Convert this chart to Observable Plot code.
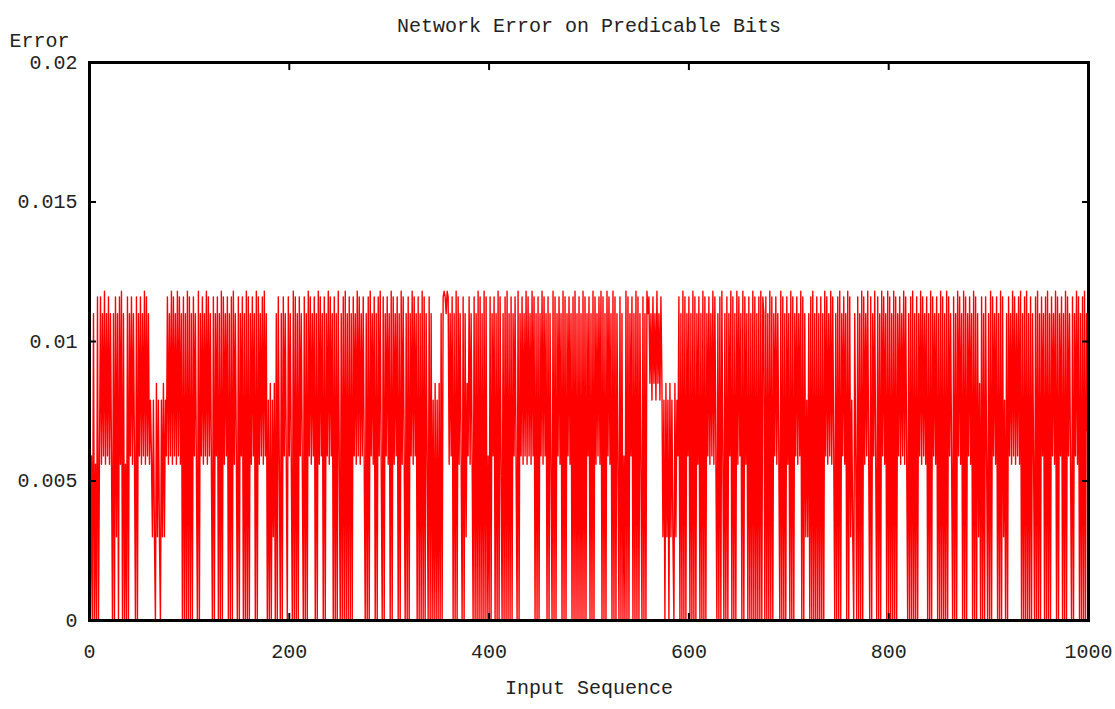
<!DOCTYPE html>
<html>
<head>
<meta charset="utf-8">
<script src="https://cdn.jsdelivr.net/npm/d3@7"></script>
<script src="https://cdn.jsdelivr.net/npm/@observablehq/plot@0.6"></script>
<style>
  body { margin: 0; background: #fff; }
  svg { display: block; }
</style>
</head>
<body>
<div id="chart"></div>
<script>
// Discrete error levels the network output settles on
const errorLevels = [0, 0.0030, 0.0056, 0.0059, 0.0068, 0.0079, 0.0085, 0.0110, 0.0116, 0.0118];

// Level index for each input in the sequence (inputs 0..999, in order)
const errorCodes = [
  "4 030702080 3827392738273 0708170 829 0702080 738273 0807",
  "3827392837253 15106151051615 3827392837293827 08070908070 8372 0907",
  "38273928372 0807 38 070908 2738 070809 273 0807 38 07090807 2837 0908",
  "27382937 05060516070 82 0708 372 08 372 0908070 8372 080709 382738",
  "0709 2837 0807 392837 080709 3 0708090708070 837293827382 070809",
  "3728 0708 392 0807 3827 0908 2738 0709 283 070807 392837 080709080",
  "73 0807050605060708 987982738 070908 273 080716 38273 080709080709080",
  "30807 38 070908 2 07080907080 7382 0907 38273928372938 070807 392837",
  "0807 2 090807 3827 090807 3827 0809070807090807 38 070908 273829 080709",
  "3827 090807 208070 3 090807 38 07090807 2 080709 786758675967586",
  "150615061510615 38 07090807 38 07090807 28 07090807 382739283 070809307080",
  "739 080709 2837 0908 27 080709080708090 87 080709080 738273 09080708 27",
  "090807 382739 0807151 7 08090708070 8 0709 382739283 07080907 3827",
  "090815107 3 0807090 827392 0807 392 080709 3827 090807090807 382739283",
  "07080907080 739283728 070908 3728 07090807090 8372 080709 3827 090807",
  "3827 0908071608070 83 07090 83728 07090815070 8372938273829 07080907080",
  "73 08090708 37 08090708 3729 0807 38 07090 8372 0807 3928 07080907 4"
].join("").replace(/\s/g, "");

const xTicks = [0, 200, 400, 600, 800, 1000];
const yTicks = [0, 0.005, 0.01, 0.015, 0.02];
const yTickLabels = ["0", "0.005", "0.01", "0.015", "0.02"];
const chartTitle = "Network Error on Predicable Bits";
const xLabel = "Input Sequence";
const yLabel = "Error";

const series = Array.from(errorCodes, (c, i) => ({input: i, error: errorLevels[+c]}));

const font = "'Liberation Mono', 'DejaVu Sans Mono', monospace";
const ink = "#222";

const chart = Plot.plot({
  width: 1115,
  height: 709,
  marginLeft: 89,
  marginRight: 27,
  marginTop: 62,
  marginBottom: 89,
  style: {fontFamily: font, fontSize: "20px", color: ink, background: "#fff"},
  x: {domain: [0, 1000]},
  y: {domain: [0, 0.02]},
  marks: [
    Plot.lineY(series, {x: "input", y: "error", stroke: "#ff0000", strokeWidth: 1.4}),
    // inward ticks on all four sides, labels on the left and bottom only
    Plot.axisX({anchor: "bottom", ticks: xTicks, tickSize: -7, tickPadding: 30, tickFormat: d => String(d), label: null, stroke: "#000", strokeWidth: 2}),
    Plot.axisX({anchor: "top", ticks: xTicks, tickSize: -7, tickFormat: () => "", label: null, stroke: "#000", strokeWidth: 2}),
    Plot.axisY({anchor: "left", ticks: yTicks, tickSize: -7, tickPadding: 19, tickFormat: d => yTickLabels[yTicks.indexOf(d)], label: null, stroke: "#000", strokeWidth: 2}),
    Plot.axisY({anchor: "right", ticks: yTicks, tickSize: -7, tickFormat: () => "", label: null, stroke: "#000", strokeWidth: 2}),
    Plot.frame({stroke: "#000", strokeWidth: 3}),
    Plot.text([chartTitle], {text: d => d, frameAnchor: "top", dy: -45, fill: ink, fontSize: 20}),
    Plot.text([yLabel], {text: d => d, frameAnchor: "top-left", dx: -50, dy: -30, textAnchor: "middle", fill: ink, fontSize: 20}),
    Plot.text([xLabel], {text: d => d, frameAnchor: "bottom", dy: 73, fill: ink, fontSize: 20})
  ]
});

document.getElementById("chart").appendChild(chart);
</script>
</body>
</html>
